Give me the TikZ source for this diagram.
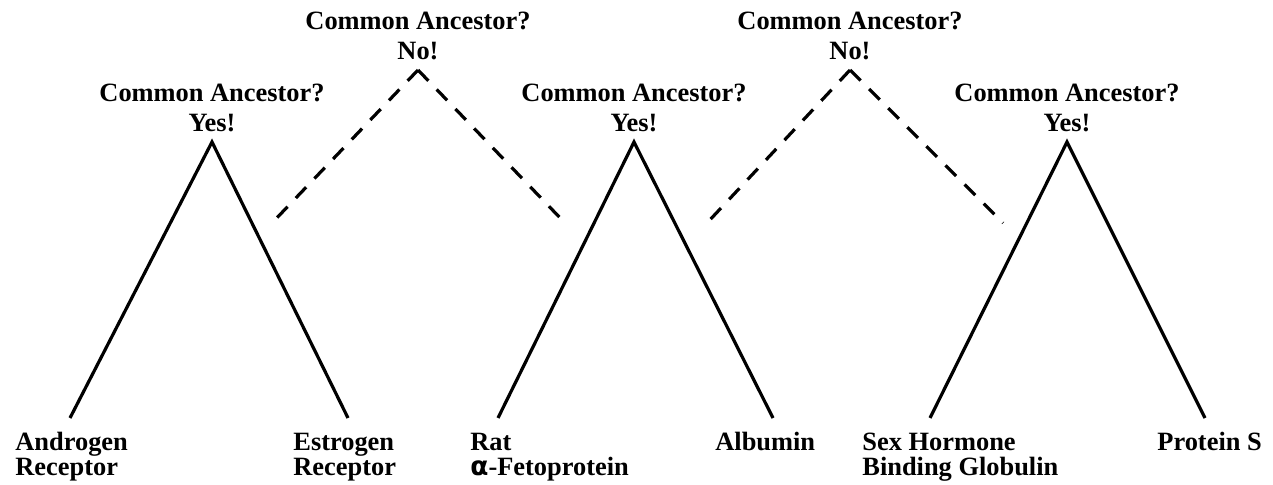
\documentclass[tikz,border=0pt]{standalone}
\usepackage{fontspec}
\setmainfont{Liberation Serif}
\newfontfamily\greekfont{DejaVu Sans}
\usepackage{tikz}
\usetikzlibrary{positioning}

\begin{document}
\begin{tikzpicture}[
    x=0.5pt, y=-0.5pt,
    every node/.style={font=\bfseries\fontsize{13.2}{15}\selectfont, inner sep=0pt},
    query/.style={align=center, anchor=south},
    leaf/.style={align=left, anchor=base west, font=\bfseries\fontsize{13.2}{12.5}\selectfont},
    branch/.style={line width=1.6pt},
    guess/.style={line width=1.6pt, dash pattern=on 7.5pt off 6pt}
]
\useasboundingbox (0,0) rectangle (1273,485);

% tree tops
\coordinate (androtop) at (212,142);
\coordinate (albtop) at (634,142);
\coordinate (shbgtop) at (1067,142);
\coordinate (leftno) at (418,70);
\coordinate (rightno) at (850,70);

% branch ends
\coordinate (andro) at (70,418);
\coordinate (estro) at (348,418);
\coordinate (afp) at (498,418);
\coordinate (alb) at (773,418);
\coordinate (shbg) at (930,418);
\coordinate (pros) at (1205,418);
\coordinate (leftnoA) at (272,223);
\coordinate (leftnoB) at (565,223);
\coordinate (rightnoA) at (707,223);
\coordinate (rightnoB) at (1003,223);

% labels
\node[query, above=5pt of androtop] (q1) {Common Ancestor?\\Yes!};
\node[query, above=5pt of albtop] (q2) {Common Ancestor?\\Yes!};
\node[query, above=5pt of shbgtop] (q3) {Common Ancestor?\\Yes!};
\node[query, above=5pt of leftno] (q4) {Common Ancestor?\\No!};
\node[query, above=5pt of rightno] (q5) {Common Ancestor?\\No!};

\node[leaf] (andlab) at (15,475) {Androgen\\Receptor};
\node[leaf] (estlab) at (293,475) {Estrogen\\Receptor};
\node[leaf] (afplab) at (470,475) {Rat\\{\greekfont α}-Fetoprotein};
\node[leaf] (alblab) at (715,450.5) {Albumin};
\node[leaf] (shbglab) at (862,475) {Sex Hormone\\Binding Globulin};
\node[leaf] (proslab) at (1157,450.5) {Protein S};

% branches
\draw[branch] (andro) -- (androtop) -- (estro);
\draw[branch] (afp) -- (albtop) -- (alb);
\draw[branch] (shbg) -- (shbgtop) -- (pros);
\draw[guess] (leftno) -- (leftnoA);
\draw[guess] (leftno) -- (leftnoB);
\draw[guess] (rightno) -- (rightnoA);
\draw[guess] (rightno) -- (rightnoB);

\end{tikzpicture}
\end{document}
